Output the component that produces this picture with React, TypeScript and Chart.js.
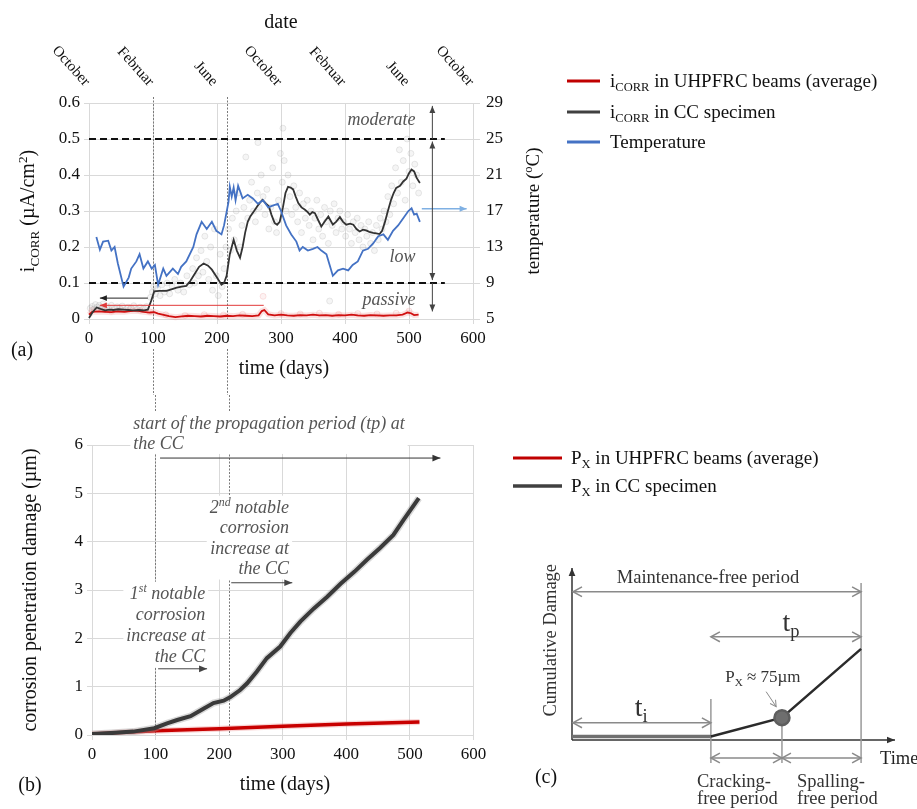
import React, { useEffect, useRef } from "react";
import { Chart, registerables } from "chart.js";

Chart.register(...registerables);

const SERIF = "'Liberation Serif', 'Times New Roman', serif";

// ---------------- (a) corrosion rate & temperature ----------------
const timeTicks = [0, 100, 200, 300, 400, 500, 600];
const dateLabels = ["October", "Februar", "June", "October", "Februar", "June", "October"];

// [day, °C]
const tempReadings: [number, number][] = [
  [11.5, 14.1], [17, 12.7], [22, 13.6], [30, 13.7], [35, 12.6], [40, 13.0], [45, 11.2], [54, 8.6], [62, 9.6], [66, 10.6],
  [74, 11.4], [79, 12.2], [85, 10.6], [92, 11.4], [98, 10.6], [103, 11.0], [108, 8.8], [116, 10.6], [121, 9.8], [131, 10.6],
  [139, 10.0], [144, 10.8], [152, 11.4], [163, 13.0], [168, 14.4], [176, 15.8], [184, 15.0], [192, 15.8], [199, 14.8], [207, 14.4],
  [211, 15.4], [218, 18.0], [220, 19.7], [223, 18.6], [226, 19.6], [229, 18.2], [233, 19.8], [240, 18.4], [248, 18.8], [256, 18.4],
  [264, 17.8], [272, 18.2], [280, 17.4], [287, 17.6], [295, 17.8], [300, 17.0], [308, 15.4], [316, 14.4], [324, 13.6], [329, 12.6],
  [334, 13.0], [342, 12.6], [350, 12.8], [357, 13.0], [363, 12.6], [371, 12.2], [376, 11.0], [381, 9.8], [389, 10.4], [397, 10.6],
  [405, 10.4], [412, 11.0], [420, 11.4], [428, 12.6], [436, 12.8], [444, 13.4], [452, 14.2], [460, 14.4], [467, 13.8], [475, 14.8],
  [483, 15.4], [491, 16.2], [499, 17.0], [504, 17.3], [508, 16.6], [512, 16.7], [517, 15.8],
];

// [day, µA/cm²] CC specimen (moving average)
const ccIcorrReadings: [number, number][] = [
  [0, 0.003], [6, 0.02], [12, 0.032], [18, 0.028], [25, 0.024], [32, 0.026], [38, 0.025], [46, 0.027], [53, 0.026], [62, 0.025],
  [69, 0.024], [78, 0.025], [86, 0.024], [92, 0.026], [97, 0.05], [102, 0.077], [110, 0.078], [121, 0.078], [130, 0.083], [137, 0.087],
  [145, 0.09], [152, 0.092], [158, 0.105], [166, 0.128], [172, 0.145], [179, 0.154], [186, 0.148], [192, 0.137], [200, 0.115], [207, 0.095],
  [211, 0.1], [215, 0.12], [220, 0.18], [226, 0.22], [231, 0.19], [236, 0.17], [240, 0.2], [244, 0.24], [248, 0.27], [252, 0.285],
  [258, 0.3], [263, 0.313], [268, 0.325], [271, 0.331], [277, 0.32], [281, 0.313], [285, 0.29], [290, 0.267], [294, 0.262], [298, 0.27],
  [303, 0.31], [307, 0.35], [311, 0.367], [315, 0.365], [319, 0.36], [323, 0.34], [327, 0.322], [332, 0.31], [337, 0.304], [341, 0.298],
  [345, 0.29], [349, 0.297], [353, 0.294], [358, 0.275], [363, 0.257], [368, 0.27], [374, 0.285], [377, 0.275], [381, 0.262], [386, 0.27],
  [392, 0.283], [397, 0.27], [402, 0.262], [408, 0.265], [413, 0.262], [418, 0.25], [423, 0.243], [428, 0.248], [433, 0.246], [438, 0.242],
  [444, 0.239], [449, 0.238], [454, 0.236], [458, 0.245], [462, 0.267], [467, 0.3], [472, 0.331], [476, 0.35], [480, 0.364], [486, 0.37],
  [491, 0.382], [496, 0.39], [500, 0.405], [504, 0.415], [508, 0.41], [512, 0.392], [517, 0.378],
];

// [day, µA/cm²] UHPFRC beams average
const uhpIcorrReadings: [number, number][] = [
  [0, 0.012], [5, 0.02], [15, 0.021], [25, 0.02], [35, 0.019], [45, 0.021], [55, 0.02], [65, 0.022], [75, 0.023], [85, 0.02],
  [95, 0.018], [102, 0.019], [108, 0.015], [115, 0.012], [125, 0.008], [135, 0.005], [145, 0.007], [155, 0.009], [165, 0.008], [175, 0.007],
  [185, 0.009], [195, 0.008], [205, 0.007], [215, 0.009], [225, 0.008], [235, 0.01], [245, 0.009], [255, 0.008], [265, 0.01], [270, 0.022],
  [274, 0.025], [280, 0.013], [290, 0.01], [300, 0.012], [310, 0.01], [320, 0.009], [330, 0.011], [340, 0.01], [350, 0.012], [360, 0.01],
  [370, 0.011], [380, 0.009], [390, 0.011], [400, 0.01], [410, 0.012], [420, 0.01], [430, 0.009], [440, 0.011], [450, 0.01], [460, 0.009],
  [470, 0.01], [480, 0.01], [490, 0.012], [498, 0.018], [503, 0.016], [508, 0.011], [515, 0.012],
];

// raw individual readings of the CC specimen
const rawCcReadings: [number, number][] = [
  [2, 0.03], [5, 0.035], [8, 0.028], [10, 0.04], [13, 0.033], [16, 0.038], [19, 0.03], [22, 0.042], [25, 0.027], [28, 0.035],
  [31, 0.03], [35, 0.038], [40, 0.028], [44, 0.034], [48, 0.03], [52, 0.036], [57, 0.026], [61, 0.033], [66, 0.03], [70, 0.037],
  [75, 0.027], [80, 0.033], [85, 0.029], [90, 0.035],
  [96, 0.06], [99, 0.075], [101, 0.09], [104, 0.07], [107, 0.085], [111, 0.065], [114, 0.095], [118, 0.075], [122, 0.1], [126, 0.07],
  [130, 0.09], [134, 0.11], [139, 0.08], [143, 0.1], [148, 0.075], [153, 0.12], [157, 0.095],
  [162, 0.14], [165, 0.1], [168, 0.17], [171, 0.12], [175, 0.19], [178, 0.13], [181, 0.23], [184, 0.16], [187, 0.11], [190, 0.2],
  [193, 0.08], [196, 0.25], [199, 0.12], [202, 0.065], [205, 0.18], [208, 0.09], [211, 0.14], [214, 0.2],
  [218, 0.25], [221, 0.19], [224, 0.28], [227, 0.22], [230, 0.3], [233, 0.35], [236, 0.2], [239, 0.26], [242, 0.31], [245, 0.45],
  [248, 0.28], [251, 0.33], [254, 0.38], [257, 0.3], [260, 0.27], [263, 0.35], [264, 0.49], [266, 0.31], [269, 0.4], [272, 0.34],
  [275, 0.29], [278, 0.36], [281, 0.25], [284, 0.31], [287, 0.42], [290, 0.27], [293, 0.24], [296, 0.33], [299, 0.46], [302, 0.38],
  [303, 0.53], [305, 0.44], [308, 0.3],
  [311, 0.4], [314, 0.34], [317, 0.29], [320, 0.37], [323, 0.31], [326, 0.27], [329, 0.35], [332, 0.24], [335, 0.32], [338, 0.28],
  [341, 0.33], [344, 0.26], [347, 0.3], [350, 0.22], [353, 0.28], [356, 0.33], [359, 0.25], [362, 0.29], [365, 0.23], [368, 0.31],
  [371, 0.27], [374, 0.21], [376, 0.05], [377, 0.3], [380, 0.26], [383, 0.32], [386, 0.24], [389, 0.28], [392, 0.3], [395, 0.25],
  [398, 0.27],
  [401, 0.23], [404, 0.29], [407, 0.25], [410, 0.21], [413, 0.27], [416, 0.24], [419, 0.28], [422, 0.22], [425, 0.26], [428, 0.2],
  [431, 0.25], [434, 0.23], [437, 0.27], [440, 0.21], [443, 0.24], [446, 0.19], [449, 0.26], [452, 0.22], [455, 0.28], [458, 0.25],
  [461, 0.3], [464, 0.27], [467, 0.34], [470, 0.29], [473, 0.37], [476, 0.32], [479, 0.42], [482, 0.35], [485, 0.47], [488, 0.38],
  [491, 0.44], [494, 0.33], [497, 0.5], [500, 0.41], [503, 0.46], [506, 0.37], [509, 0.43], [512, 0.4], [515, 0.35],
];

const rawUhpReadings: [number, number][] = [
  [5, 0.025], [20, 0.028], [35, 0.022], [50, 0.026], [65, 0.03], [80, 0.024], [95, 0.02], [120, 0.012], [150, 0.01], [180, 0.012],
  [210, 0.011], [240, 0.013], [272, 0.063], [300, 0.015], [330, 0.014], [360, 0.016], [390, 0.013], [420, 0.015], [450, 0.014],
  [480, 0.016], [500, 0.022],
];

const thresholdDays = [0, 556];
const moderateLimit = 0.5;
const passiveLimit = 0.1;
const markerDaysA = [100, 216];
const rangeArrowDay = 536.5;
const levelLabels = [
  { text: "moderate", level: 0.556 },
  { text: "low", level: 0.174 },
  { text: "passive", level: 0.054 },
];
const levelLabelDay = 510;

// ---------------- (b) corrosion penetration ----------------
const ccPxDays = [0, 30, 65, 98, 118, 134, 155, 176, 191, 207, 217, 233, 244, 259, 275, 296, 312, 328, 349, 370, 391, 413, 432, 453, 474, 490, 514];
const ccPxValues = [0.02, 0.04, 0.07, 0.14, 0.24, 0.31, 0.39, 0.55, 0.66, 0.71, 0.78, 0.93, 1.07, 1.31, 1.59, 1.83, 2.11, 2.35, 2.62, 2.86, 3.13, 3.38, 3.62, 3.87, 4.14, 4.45, 4.9];
const uhpPxDays = [0, 100, 200, 300, 400, 515];
const uhpPxValues = [0.02, 0.09, 0.13, 0.18, 0.23, 0.27];
const markerDaysB = [98.5, 216];

// ---------------- (c) schematic ----------------
const phaseTimes = [0, 43, 65, 89.5];
const damageLevels = [2, 2, 13, 53];

// ---------------- helpers ----------------
type Seg = { t: string; sub?: boolean; sup?: boolean };
const pts = (arr: [number, number][]) => arr.map(([x, y]) => ({ x, y }));
const ptsXY = (xs: number[], ys: number[]) => xs.map((x, i) => ({ x, y: ys[i] }));

function drawRich(ctx: CanvasRenderingContext2D, segs: Seg[], x: number, yc: number, size: number, o: any = {}) {
  const family = o.family || SERIF;
  const style = o.style ? o.style + " " : "";
  const small = size * 0.66;
  const fontFor = (s: Seg) => `${style}${s.sub || s.sup ? small : size}px ${family}`;
  let w = 0;
  for (const s of segs) {
    ctx.font = fontFor(s);
    w += ctx.measureText(s.t).width;
  }
  let cx = o.align === "center" ? x - w / 2 : o.align === "right" ? x - w : x;
  const base = yc + size * 0.32;
  ctx.fillStyle = o.color || "#111";
  ctx.textAlign = "left";
  ctx.textBaseline = "alphabetic";
  for (const s of segs) {
    ctx.font = fontFor(s);
    const dy = s.sub ? size * 0.22 : s.sup ? -size * 0.38 : 0;
    ctx.fillText(s.t, cx, base + dy);
    cx += ctx.measureText(s.t).width;
  }
  return w;
}

function measureRich(ctx: CanvasRenderingContext2D, segs: Seg[], size: number, style = "") {
  let w = 0;
  for (const s of segs) {
    ctx.font = `${style ? style + " " : ""}${s.sub || s.sup ? size * 0.66 : size}px ${SERIF}`;
    w += ctx.measureText(s.t).width;
  }
  return w;
}

function head(ctx: CanvasRenderingContext2D, x: number, y: number, ang: number, size: number, filled: boolean) {
  ctx.save();
  ctx.translate(x, y);
  ctx.rotate(ang);
  ctx.beginPath();
  if (filled) {
    ctx.moveTo(0, 0);
    ctx.lineTo(-size, -size * 0.42);
    ctx.lineTo(-size, size * 0.42);
    ctx.closePath();
    ctx.fill();
  } else {
    ctx.moveTo(-size, -size * 0.55);
    ctx.lineTo(0, 0);
    ctx.lineTo(-size, size * 0.55);
    ctx.stroke();
  }
  ctx.restore();
}

function arrow(ctx: CanvasRenderingContext2D, x1: number, y1: number, x2: number, y2: number, o: any = {}) {
  const color = o.color || "#333";
  const mode = o.head || "end";
  const size = o.size || 7;
  const filled = o.filled !== false;
  ctx.save();
  ctx.setLineDash([]);
  ctx.strokeStyle = color;
  ctx.fillStyle = color;
  ctx.lineWidth = o.width || 1;
  ctx.beginPath();
  ctx.moveTo(x1, y1);
  ctx.lineTo(x2, y2);
  ctx.stroke();
  const ang = Math.atan2(y2 - y1, x2 - x1);
  if (mode === "end" || mode === "both") head(ctx, x2, y2, ang, size, filled);
  if (mode === "start" || mode === "both") head(ctx, x1, y1, ang + Math.PI, size, filled);
  ctx.restore();
}

function drawLegend(ctx: CanvasRenderingContext2D, items: any[], x0: number, x1: number, tx: number, ys: number[], size: number) {
  items.forEach((it, i) => {
    ctx.save();
    ctx.strokeStyle = it.color;
    ctx.lineWidth = it.width || 3;
    ctx.beginPath();
    ctx.moveTo(x0, ys[i]);
    ctx.lineTo(x1, ys[i]);
    ctx.stroke();
    drawRich(ctx, it.segs, tx, ys[i], size, { color: "#111" });
    ctx.restore();
  });
}

const GRID = "#d9d9d9";
const fixAxis = (w?: number, h?: number) => (s: any) => {
  if (w !== undefined) s.width = w;
  if (h !== undefined) s.height = h;
  s.paddingLeft = 0;
  s.paddingRight = 0;
  s.paddingTop = 0;
  s.paddingBottom = 0;
};

// ---------------- chart (a) ----------------
const pluginA = {
  id: "annotA",
  beforeDatasetsDraw(chart: any) {
    const { ctx, chartArea: ca, scales } = chart;
    ctx.save();
    ctx.strokeStyle = "#7a7a7a";
    ctx.lineWidth = 1;
    ctx.setLineDash([2, 1.5]);
    markerDaysA.forEach((d) => {
      const px = Math.round(scales.x.getPixelForValue(d)) + 0.5;
      ctx.beginPath();
      ctx.moveTo(px, ca.top - 6);
      ctx.lineTo(px, ca.bottom);
      ctx.moveTo(px, 349);
      ctx.lineTo(px, chart.height);
      ctx.stroke();
    });
    ctx.restore();
  },
  afterDatasetsDraw(chart: any) {
    const { ctx, scales } = chart;
    const x = scales.x, y = scales.y, y2 = scales.y2;
    ctx.save();
    arrow(ctx, x.getPixelForValue(92), y.getPixelForValue(0.058), x.getPixelForValue(17), y.getPixelForValue(0.058), { color: "#222", size: 7 });
    arrow(ctx, x.getPixelForValue(273), y.getPixelForValue(0.038), x.getPixelForValue(17), y.getPixelForValue(0.038), { color: "#e23a3a", size: 7 });
    arrow(ctx, x.getPixelForValue(520), y2.getPixelForValue(17.25), x.getPixelForValue(590), y2.getPixelForValue(17.25), { color: "#7fb0e3", width: 1.5, size: 7 });
    const ax = x.getPixelForValue(rangeArrowDay);
    arrow(ctx, ax, y.getPixelForValue(0.5), ax, y.getPixelForValue(0.592), { color: "#444", size: 7 });
    arrow(ctx, ax, y.getPixelForValue(0.493), ax, y.getPixelForValue(0.108), { color: "#444", size: 7, head: "both" });
    arrow(ctx, ax, y.getPixelForValue(0.1), ax, y.getPixelForValue(0.021), { color: "#444", size: 7 });
    levelLabels.forEach((l) => {
      drawRich(ctx, [{ t: l.text }], x.getPixelForValue(levelLabelDay), y.getPixelForValue(l.level), 18, { style: "italic", color: "#555", align: "right" });
    });
    ctx.restore();
  },
  afterDraw(chart: any) {
    const { ctx, chartArea: ca, scales } = chart;
    const x = scales.x;
    ctx.save();
    ctx.font = `15px ${SERIF}`;
    ctx.fillStyle = "#111";
    timeTicks.forEach((d, i) => {
      const px = x.getPixelForValue(d);
      ctx.save();
      ctx.translate(px - 2, 84);
      ctx.rotate((48 * Math.PI) / 180);
      ctx.textAlign = "right";
      ctx.textBaseline = "middle";
      ctx.fillText(dateLabels[i], 0, 0);
      ctx.restore();
    });
    const cx = (ca.left + ca.right) / 2;
    const cy = (ca.top + ca.bottom) / 2;
    drawRich(ctx, [{ t: "date" }], cx, 22, 20, { align: "center" });
    drawRich(ctx, [{ t: "time (days)" }], 284, 368, 20, { align: "center" });
    drawRich(ctx, [{ t: "(a)" }], 22, 350, 20, { align: "center" });
    ctx.save();
    ctx.translate(28, cy);
    ctx.rotate(-Math.PI / 2);
    drawRich(ctx, [{ t: "i" }, { t: "CORR", sub: true }, { t: " (µA/cm" }, { t: "2", sup: true }, { t: ")" }], 0, 0, 20, { align: "center" });
    ctx.restore();
    ctx.save();
    ctx.translate(533, cy);
    ctx.rotate(-Math.PI / 2);
    drawRich(ctx, [{ t: "temperature (" }, { t: "o", sup: true }, { t: "C)" }], 0, 0, 19, { align: "center" });
    ctx.restore();
    drawLegend(
      ctx,
      [
        { color: "#c00000", segs: [{ t: "i" }, { t: "CORR", sub: true }, { t: " in UHPFRC beams (average)" }] },
        { color: "#404040", segs: [{ t: "i" }, { t: "CORR", sub: true }, { t: " in CC specimen" }] },
        { color: "#4472c4", segs: [{ t: "Temperature" }] },
      ],
      567, 600, 610, [81, 112, 142], 19
    );
    ctx.restore();
  },
};

function configA(): any {
  const tick = { font: { size: 17, family: SERIF }, color: "#111", padding: 4 };
  return {
    type: "scatter",
    data: {
      datasets: [
        { data: pts(tempReadings), yAxisID: "y2", showLine: true, borderColor: "#4472c4", borderWidth: 1.8, pointRadius: 0, order: 1 },
        { data: pts(ccIcorrReadings), showLine: true, borderColor: "#333333", borderWidth: 1.8, pointRadius: 0, order: 2 },
        { data: pts(uhpIcorrReadings), showLine: true, borderColor: "#d01010", borderWidth: 1.8, pointRadius: 0, order: 3 },
        { data: pts(uhpIcorrReadings), showLine: true, borderColor: "rgba(235,120,120,0.22)", borderWidth: 6, pointRadius: 0, order: 4 },
        { data: ptsXY(thresholdDays, thresholdDays.map(() => moderateLimit)), showLine: true, borderColor: "#111", borderWidth: 2, borderDash: [7, 4], pointRadius: 0, order: 5 },
        { data: ptsXY(thresholdDays, thresholdDays.map(() => passiveLimit)), showLine: true, borderColor: "#111", borderWidth: 2, borderDash: [7, 4], pointRadius: 0, order: 5 },
        { data: pts(rawCcReadings), pointRadius: 3, backgroundColor: "rgba(175,175,175,0.12)", borderColor: "rgba(150,150,150,0.2)", borderWidth: 1, order: 6 },
        { data: pts(rawUhpReadings), pointRadius: 3, backgroundColor: "rgba(240,150,150,0.12)", borderColor: "rgba(230,130,130,0.2)", borderWidth: 1, order: 6 },
      ],
    },
    options: {
      responsive: false,
      animation: false,
      events: [],
      clip: false,
      layout: { padding: { left: 39, right: 394, top: 103, bottom: 46 } },
      plugins: { legend: { display: false }, tooltip: { enabled: false } },
      scales: {
        x: { type: "linear", min: 0, max: 600, ticks: { ...tick, stepSize: 100 }, grid: { color: GRID, tickLength: 5 }, border: { color: GRID }, afterFit: fixAxis(undefined, 30) },
        y: { type: "linear", position: "left", min: 0, max: 0.6, ticks: { ...tick, stepSize: 0.1 }, grid: { color: GRID, tickLength: 5 }, border: { color: GRID }, afterFit: fixAxis(50) },
        y2: { type: "linear", position: "right", min: 5, max: 29, ticks: { ...tick, stepSize: 4, padding: 6 }, grid: { drawOnChartArea: false, color: GRID, tickLength: 7 }, border: { color: GRID }, afterFit: fixAxis(50) },
      },
    },
    plugins: [pluginA],
  };
}

// ---------------- chart (b) ----------------
const propagationNote: Seg[][] = [[{ t: "start of the propagation period (tp) at" }], [{ t: "the CC" }]];
const secondNote: Seg[][] = [[{ t: "2" }, { t: "nd", sup: true }, { t: " notable" }], [{ t: "corrosion" }], [{ t: "increase at" }], [{ t: "the CC" }]];
const firstNote: Seg[][] = [[{ t: "1" }, { t: "st", sup: true }, { t: " notable" }], [{ t: "corrosion" }], [{ t: "increase at" }], [{ t: "the CC" }]];

function drawBlock(ctx: CanvasRenderingContext2D, lines: Seg[][], x: number, yFirst: number, align: string, lh: number) {
  const size = 18;
  const widths = lines.map((l) => measureRich(ctx, l, size, "italic"));
  const maxW = Math.max(...widths);
  const left = align === "left" ? x - 3 : x - maxW - 3;
  ctx.save();
  ctx.fillStyle = "#fff";
  ctx.fillRect(left, yFirst - size * 0.62, maxW + 6, (lines.length - 1) * lh + size * 1.24);
  lines.forEach((l, i) => drawRich(ctx, l, x, yFirst + i * lh, size, { style: "italic", color: "#555", align }));
  ctx.restore();
}

const pluginB = {
  id: "annotB",
  beforeDatasetsDraw(chart: any) {
    const { ctx, chartArea: ca, scales } = chart;
    const x = scales.x, y = scales.y;
    ctx.save();
    ctx.strokeStyle = "#7a7a7a";
    ctx.lineWidth = 1;
    ctx.setLineDash([2, 1.5]);
    markerDaysB.forEach((d) => {
      const px = Math.round(x.getPixelForValue(d)) + 0.5;
      ctx.beginPath();
      ctx.moveTo(px, 0);
      ctx.lineTo(px, ca.bottom);
      ctx.stroke();
    });
    ctx.setLineDash([]);
    drawBlock(ctx, propagationNote, x.getPixelForValue(65), y.getPixelForValue(6.46), "left", 20);
    drawBlock(ctx, secondNote, x.getPixelForValue(310), y.getPixelForValue(4.72), "right", 20.5);
    drawBlock(ctx, firstNote, x.getPixelForValue(178), y.getPixelForValue(2.94), "right", 21.2);
    arrow(ctx, x.getPixelForValue(107), y.getPixelForValue(5.73), x.getPixelForValue(548), y.getPixelForValue(5.73), { color: "#333", size: 8 });
    arrow(ctx, x.getPixelForValue(219), y.getPixelForValue(3.15), x.getPixelForValue(315), y.getPixelForValue(3.15), { color: "#444", size: 8 });
    arrow(ctx, x.getPixelForValue(104), y.getPixelForValue(1.37), x.getPixelForValue(181), y.getPixelForValue(1.37), { color: "#444", size: 8 });
    ctx.restore();
  },
  afterDraw(chart: any) {
    const { ctx, chartArea: ca } = chart;
    ctx.save();
    const cy = (ca.top + ca.bottom) / 2;
    ctx.save();
    ctx.translate(30, cy);
    ctx.rotate(-Math.PI / 2);
    drawRich(ctx, [{ t: "corrosion penetration damage (µm)" }], 0, 0, 20, { align: "center" });
    ctx.restore();
    drawRich(ctx, [{ t: "time (days)" }], 285, 389, 20, { align: "center" });
    drawRich(ctx, [{ t: "(b)" }], 30, 390, 20, { align: "center" });
    drawLegend(
      ctx,
      [
        { color: "#c00000", segs: [{ t: "P" }, { t: "X", sub: true }, { t: " in UHPFRC beams (average)" }] },
        { color: "#404040", width: 3.5, segs: [{ t: "P" }, { t: "X", sub: true }, { t: " in CC specimen" }] },
      ],
      513, 562, 571, [63, 91], 19
    );
    ctx.restore();
  },
};

function configB(): any {
  const tick = { font: { size: 17, family: SERIF }, color: "#111", padding: 4 };
  return {
    type: "scatter",
    data: {
      datasets: [
        { data: ptsXY(ccPxDays, ccPxValues), showLine: true, borderColor: "#3a3a3a", borderWidth: 4, pointRadius: 0, order: 1 },
        { data: ptsXY(ccPxDays, ccPxValues), showLine: true, borderColor: "rgba(160,160,160,0.4)", borderWidth: 7, pointRadius: 0, order: 2 },
        { data: ptsXY(uhpPxDays, uhpPxValues), showLine: true, borderColor: "#c80000", borderWidth: 3.5, pointRadius: 0, order: 3 },
        { data: ptsXY(uhpPxDays, uhpPxValues), showLine: true, borderColor: "rgba(235,120,120,0.3)", borderWidth: 6, pointRadius: 0, order: 4 },
      ],
    },
    options: {
      responsive: false,
      animation: false,
      events: [],
      layout: { padding: { left: 37, right: 443.5, top: 50, bottom: 44 } },
      plugins: { legend: { display: false }, tooltip: { enabled: false } },
      scales: {
        x: { type: "linear", min: 0, max: 600, ticks: { ...tick, stepSize: 100 }, grid: { color: GRID, tickLength: 5 }, border: { color: GRID }, afterFit: fixAxis(undefined, 30) },
        y: { type: "linear", min: 0, max: 6, ticks: { ...tick, stepSize: 1 }, grid: { color: GRID, tickLength: 5 }, border: { color: GRID }, afterFit: fixAxis(55) },
      },
    },
    plugins: [pluginB],
  };
}

// ---------------- chart (c) ----------------
const pluginC = {
  id: "annotC",
  beforeDatasetsDraw(chart: any) {
    const { ctx, chartArea: ca, scales } = chart;
    const x = scales.x, y = scales.y;
    const px = (v: number) => x.getPixelForValue(v);
    const py = (v: number) => y.getPixelForValue(v);
    const [t0, tCrack, tPx, tSpall] = phaseTimes;
    ctx.save();
    arrow(ctx, ca.left, ca.bottom, ca.left, ca.top, { color: "#333", width: 1.5, size: 8 });
    arrow(ctx, ca.left, ca.bottom, ca.right, ca.bottom, { color: "#333", width: 1.5, size: 8 });
    ctx.strokeStyle = "#999";
    ctx.lineWidth = 1.5;
    const below = ca.bottom + 23;
    [[tCrack, 23.8], [tPx, damageLevels[2]], [tSpall, 91.3]].forEach(([t, top]) => {
      ctx.beginPath();
      ctx.moveTo(px(t), py(top));
      ctx.lineTo(px(t), below);
      ctx.stroke();
    });
    const g = { color: "#8a8a8a", width: 1.5, size: 9, head: "both", filled: false };
    arrow(ctx, px(t0) + 1, py(86.2), px(tSpall), py(86.2), g);
    arrow(ctx, px(tCrack), py(60), px(tSpall), py(60), g);
    arrow(ctx, px(t0) + 1, py(10), px(tCrack), py(10), g);
    arrow(ctx, px(tCrack), ca.bottom + 18, px(tPx), ca.bottom + 18, g);
    arrow(ctx, px(tPx), ca.bottom + 18, px(tSpall), ca.bottom + 18, g);
    arrow(ctx, px(60.1), py(28.1), px(63.2), py(19.4), { color: "#8a8a8a", width: 1, size: 6, filled: false });
    const tc = { color: "#333", align: "center" };
    drawRich(ctx, [{ t: "Maintenance-free period" }], px(42.1), py(94.9), 18.5, tc);
    drawRich(ctx, [{ t: "t" }, { t: "p", sub: true }], px(67.8), py(68.8), 28, tc);
    drawRich(ctx, [{ t: "t" }, { t: "i", sub: true }], px(21.4), py(19.4), 28, tc);
    drawRich(ctx, [{ t: "P" }, { t: "X", sub: true }, { t: " ≈ 75µm" }], px(59.1), py(36.6), 17, tc);
    drawRich(ctx, [{ t: "Time" }], ca.right - 15, ca.bottom + 18, 18.5, { color: "#222" });
    drawRich(ctx, [{ t: "(c)" }], 16, 237, 20, { color: "#111", align: "center" });
    drawRich(ctx, [{ t: "Cracking-" }], 167, 240.7, 18.5, { color: "#333" });
    drawRich(ctx, [{ t: "free period" }], 167, 258, 18.5, { color: "#333" });
    drawRich(ctx, [{ t: "Spalling-" }], 267, 240.7, 18.5, { color: "#333" });
    drawRich(ctx, [{ t: "free period" }], 267, 258, 18.5, { color: "#333" });
    ctx.save();
    ctx.translate(20, py(58));
    ctx.rotate(-Math.PI / 2);
    drawRich(ctx, [{ t: "Cumulative Damage" }], 0, 0, 18.5, { color: "#333", align: "center" });
    ctx.restore();
    ctx.restore();
  },
};

function configC(): any {
  return {
    type: "scatter",
    data: {
      datasets: [
        { data: ptsXY(phaseTimes.slice(0, 2), damageLevels.slice(0, 2)), showLine: true, borderColor: "#707070", borderWidth: 3.5, pointRadius: 0, order: 2 },
        {
          data: ptsXY(phaseTimes.slice(1), damageLevels.slice(1)),
          showLine: true,
          borderColor: "#2b2b2b",
          borderWidth: 2.5,
          pointRadius: [0, 7.5, 0],
          pointBackgroundColor: "#6e6e6e",
          pointBorderColor: "#5e5e5e",
          order: 1,
        },
      ],
    },
    options: {
      responsive: false,
      animation: false,
      events: [],
      clip: false,
      layout: { padding: { left: 42, right: 22, top: 28, bottom: 69 } },
      plugins: { legend: { display: false }, tooltip: { enabled: false } },
      scales: {
        x: { type: "linear", min: 0, max: 100, display: false },
        y: { type: "linear", min: 0, max: 100, display: false },
      },
    },
    plugins: [pluginC],
  };
}

export default function App() {
  const aRef = useRef<HTMLCanvasElement>(null);
  const bRef = useRef<HTMLCanvasElement>(null);
  const cRef = useRef<HTMLCanvasElement>(null);
  useEffect(() => {
    Chart.defaults.font.family = SERIF;
    Chart.defaults.color = "#111";
    const a = new Chart(aRef.current as any, configA());
    const b = new Chart(bRef.current as any, configB());
    const c = new Chart(cRef.current as any, configC());
    return () => {
      a.destroy();
      b.destroy();
      c.destroy();
    };
  }, []);
  return (
    <div style={{ position: "absolute", left: 0, top: 0, width: 917, height: 809, background: "#fff", overflow: "hidden" }}>
      <canvas ref={aRef} width={917} height={395} style={{ position: "absolute", left: 0, top: 0 }} />
      <canvas ref={bRef} width={917} height={414} style={{ position: "absolute", left: 0, top: 395 }} />
      <canvas ref={cRef} width={387} height={269} style={{ position: "absolute", left: 530, top: 540 }} />
    </div>
  );
}
